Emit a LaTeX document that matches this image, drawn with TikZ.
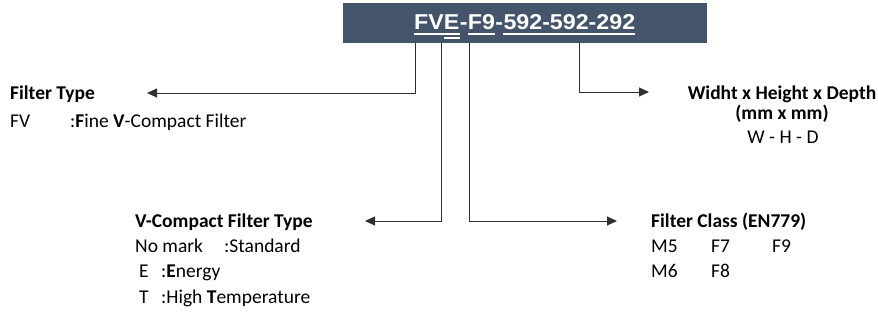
\documentclass[tikz,border=0pt]{standalone}
\usepackage{fontspec,xcolor,tikz}
\usetikzlibrary{arrows.meta,positioning}
\setmainfont{Carlito}
\newfontfamily\codefont[FakeStretch=1.08]{Liberation Sans}
\definecolor{banner}{HTML}{44546A}
\definecolor{wire}{HTML}{303030}
\newcommand{\body}{\fontsize{19.5}{24}\selectfont}
\newcommand{\code}{\codefont\fontsize{21.5}{26}\selectfont\bfseries}

\begin{document}
\begin{tikzpicture}[x=1pt,y=-1pt,font=\body,
  txt/.style={anchor=base west,inner sep=0},
  seg/.style={anchor=base west,inner sep=0,font=\code,text=white},
  link/.style={wire,line width=1pt,-{Triangle[length=10pt,width=9pt]}}]
\useasboundingbox (0,0) rectangle (878,327);
% code banner
\node[fill=banner,inner sep=0,minimum width=364pt,minimum height=40pt,anchor=north west] (banner) at (343,3) {};
\node[seg] (fve) at (414,29.3) {FVE};
\node[seg,right=0pt of fve.base east,anchor=base west] (dasha) {-};
\node[seg,right=0pt of dasha.base east,anchor=base west] (f9) {F9};
\node[seg,right=0pt of f9.base east,anchor=base west] (dashb) {-};
\node[seg,right=0pt of dashb.base east,anchor=base west] (dims) {592-592-292};
\foreach \s in {fve,f9,dims}
  \fill[white] ([yshift=-4pt]\s.base west) rectangle ([yshift=-6pt]\s.base east);
\fill[white] ([xshift=-16pt,yshift=-8pt]fve.base east) rectangle ([yshift=-10pt]fve.base east);
% filter type
\node[txt,font=\body\bfseries] (ftype) at (10,99) {Filter Type};
\node[txt] (fv) at (10,127) {FV};
\node[txt] (fvtext) at (70,127) {:\textbf{F}ine \textbf{V}-Compact Filter};
% dimensions
\node[anchor=base,inner sep=0,font=\body\bfseries] (dimhead) at (782,99) {Widht x Height x Depth};
\node[anchor=base,inner sep=0,font=\body\bfseries] (dimunit) at (782,119) {(mm x mm)};
\node[anchor=base,inner sep=0] (dimtext) at (783,143) {W - H - D};
% v-compact type
\node[txt,font=\body\bfseries] (vtype) at (135,227) {V-Compact Filter Type};
\node[txt] (nomark) at (135,252) {No mark};
\node[txt] (nomarktext) at (224,252) {:Standard};
\node[txt] (vE) at (139,277) {E};
\node[txt] (vEtext) at (161,277) {:\textbf{E}nergy};
\node[txt] (vT) at (139,303) {T};
\node[txt] (vTtext) at (161,303) {:High \textbf{T}emperature};
% filter class
\node[txt,font=\body\bfseries] (fclass) at (651,227) {Filter Class (EN779)};
\node[txt] (m5) at (651,252) {M5};
\node[txt] (f7) at (711,252) {F7};
\node[txt] (f9c) at (772,252) {F9};
\node[txt] (m6) at (651,277) {M6};
\node[txt] (f8) at (711,277) {F8};
% connectors
\coordinate (ftip) at (147,93);
\coordinate (vtip) at (365,221);
\coordinate (ctip) at (617,221);
\coordinate (dtip) at (649,92);
\draw[link] ([xshift=1.7pt]fve.west |- banner.south) |- (ftip);
\draw[link] ([xshift=-18pt]fve.east |- banner.south) |- (vtip);
\draw[link] ([xshift=2pt]f9.west |- banner.south) |- (ctip);
\draw[link] ([xshift=10pt]dims.south |- banner.south) |- (dtip);
\end{tikzpicture}
\end{document}
